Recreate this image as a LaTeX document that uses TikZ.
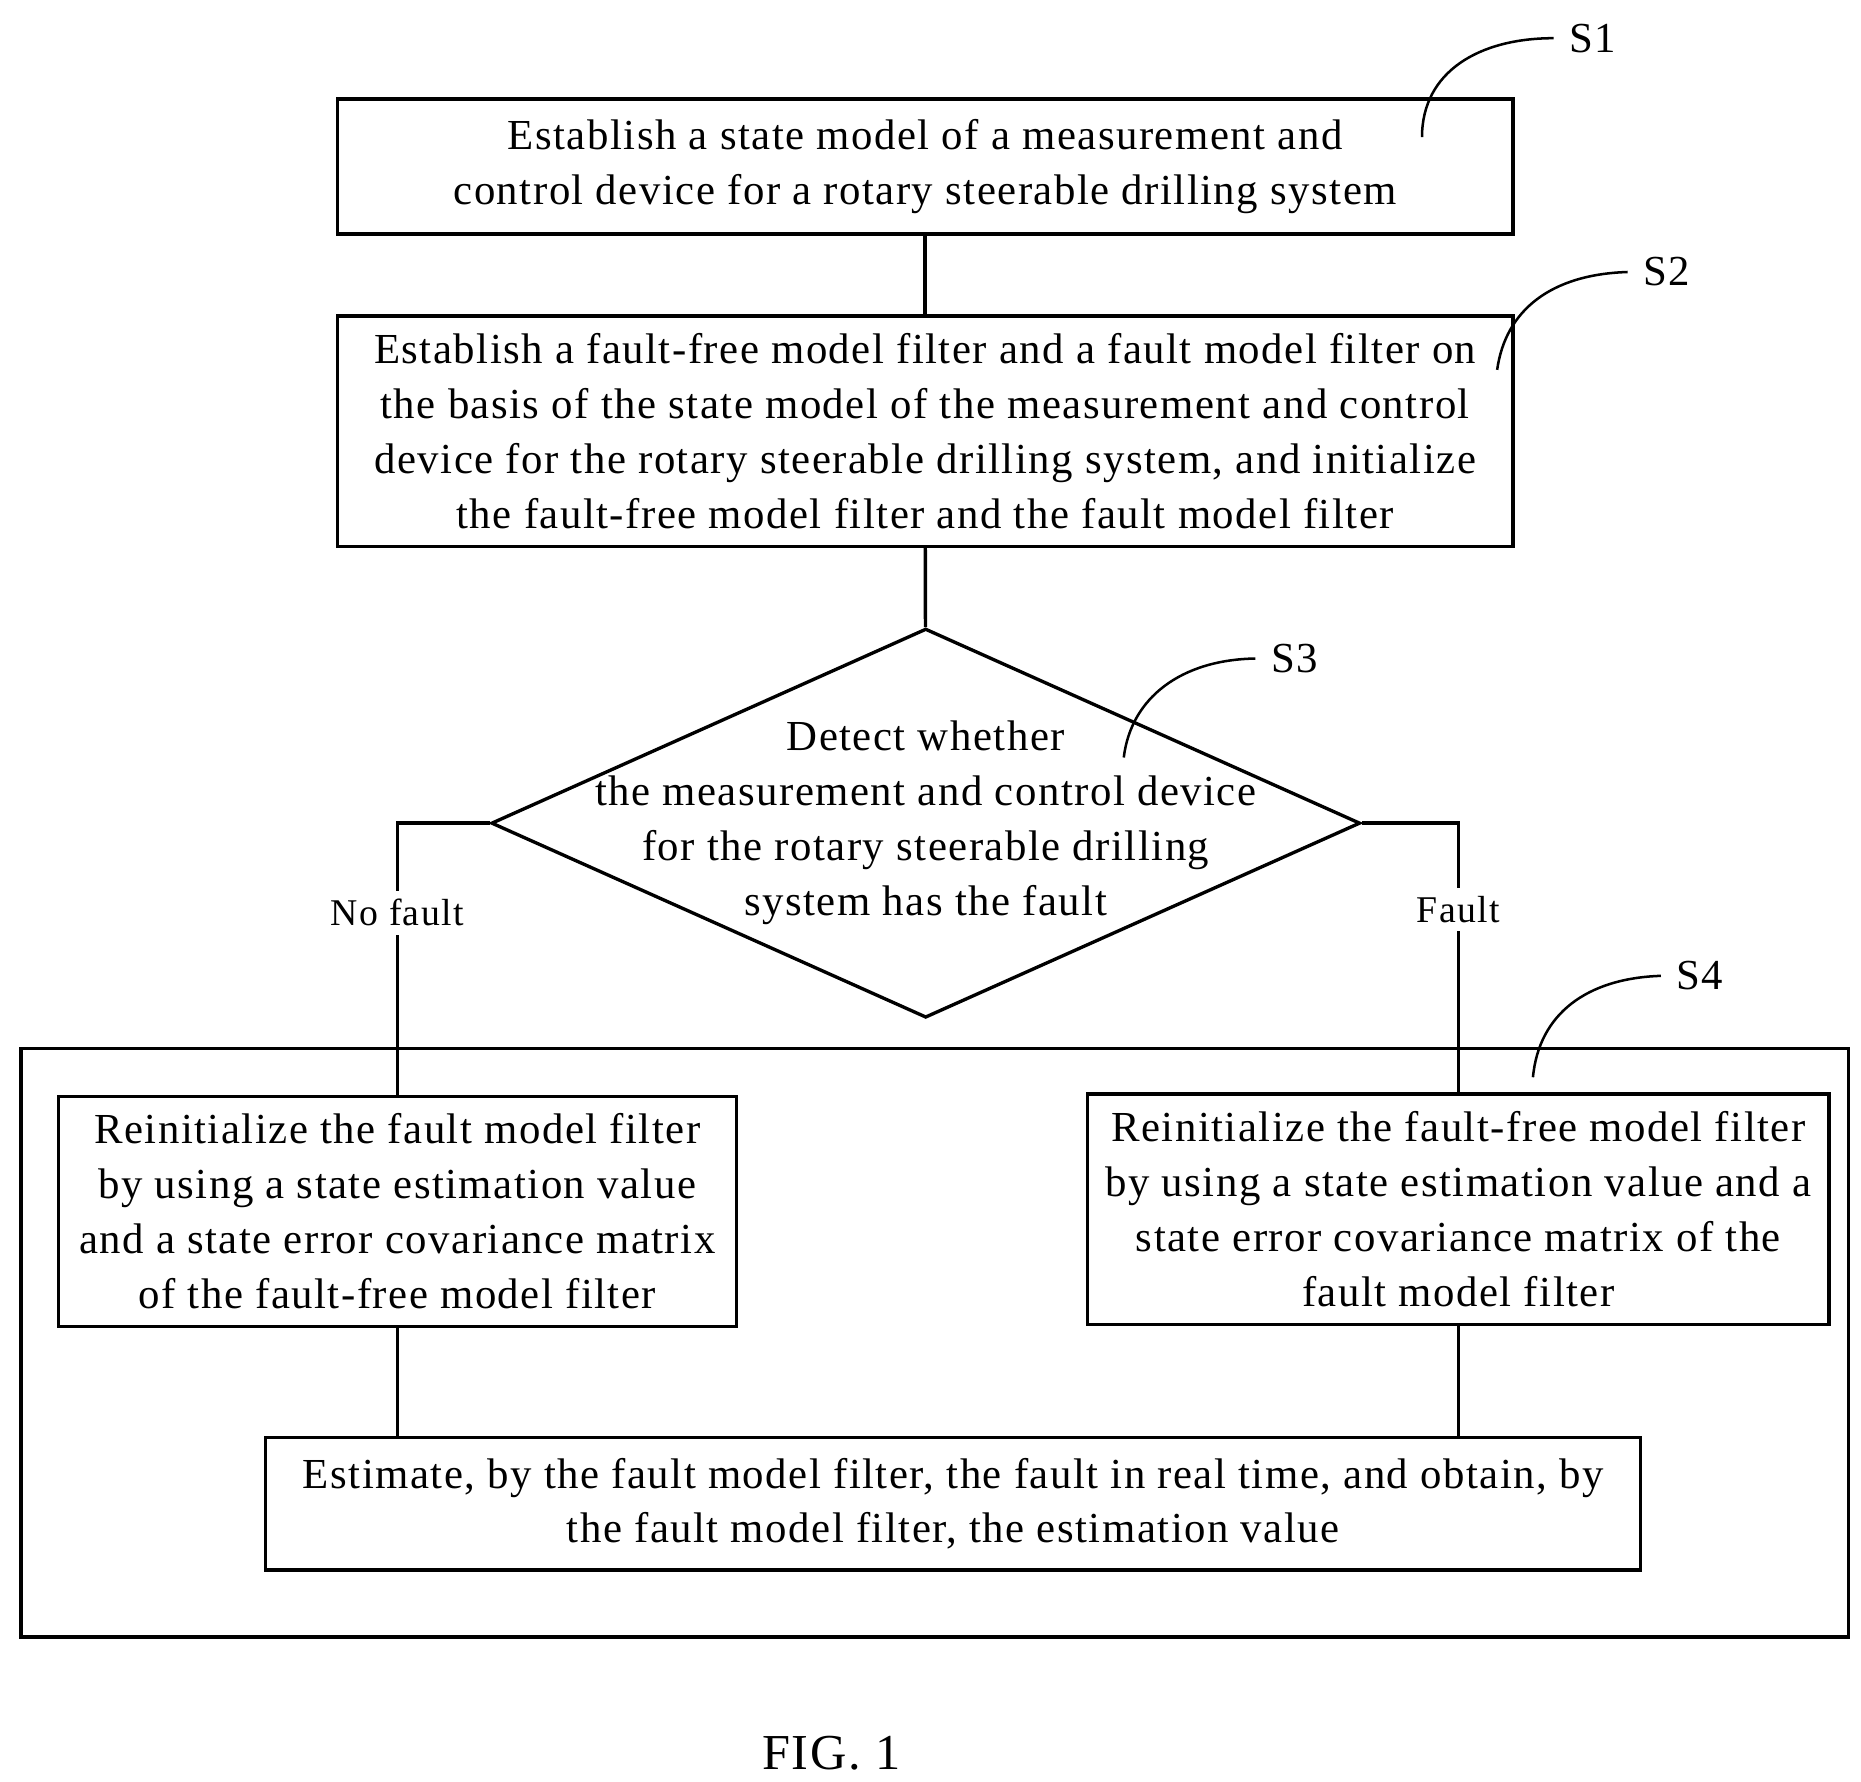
\documentclass[tikz,border=0pt]{standalone}
\usepackage{fontspec}
\setmainfont{Liberation Serif}[LetterSpace=3.5]
\usetikzlibrary{shapes.geometric,calc}
\tikzset{stepbox/.style={
		% plain box, fixed size
		rectangle,draw,thick,align=center,inner sep=0pt,
		font=\fontsize{10.2pt}{13.1pt}\selectfont,
}}
\tikzset{tag/.style={font=\fontsize{10.2pt}{12pt}\selectfont}}
\tikzset{lbl/.style={fill=white,inner sep=2pt,font=\fontsize{9pt}{11pt}\selectfont}}
\begin{document}
\begin{tikzpicture}[x=0.01cm,y=-0.01cm,thick]
	\useasboundingbox (0,0) rectangle (1560,1493);
	% outer frame of S4
	\node (frame) [draw,thick,minimum width=15.31cm,minimum height=4.93cm,inner sep=0pt] at (783.5,1125.5) {};
	\node (s1) [stepbox,minimum width=9.85cm,minimum height=1.13cm] at (775.5,139.5)
		{Establish a state model of a measurement and\\control device for a rotary steerable drilling system};
	\node (s2) [stepbox,minimum width=9.85cm,minimum height=1.93cm] at (775.5,361.5)
		{Establish a fault-free model filter and a fault model filter on\\the basis of the state model of the measurement and control\\device for the rotary steerable drilling system, and initialize\\the fault-free model filter and the fault model filter};
	\node (s3) [diamond,draw,thick,inner sep=0pt,minimum width=7.28cm,minimum height=3.26cm] at (776,690) {};
	\node (s3text) [align=center,font=\fontsize{10.2pt}{13.1pt}\selectfont] at (776,690)
		{Detect whether\\the measurement and control device\\for the rotary steerable drilling\\system has the fault};
	\node (left) [stepbox,minimum width=5.68cm,minimum height=1.93cm] at (333,1015.5)
		{Reinitialize the fault model filter\\by using a state estimation value\\and a state error covariance matrix\\of the fault-free model filter};
	\node (right) [stepbox,minimum width=6.21cm,minimum height=1.93cm] at (1222.5,1013.5)
		{Reinitialize the fault-free model filter\\by using a state estimation value and a\\state error covariance matrix of the\\fault model filter};
	\node (est) [stepbox,minimum width=11.52cm,minimum height=1.11cm] at (799,1260.5)
		{Estimate, by the fault model filter, the fault in real time, and obtain, by\\the fault model filter, the estimation value};
	% connectors
	\draw (s1) -- (s2);
	\draw (s2) -- (s3);
	\draw (s3.west) -| node[lbl,pos=0.665] {No fault} (left.north);
	\draw (s3.east) -| node[lbl,pos=0.66] {Fault} (right.north);
	\draw (left.south) -- (left.south |- est.north);
	\draw (right.south) -- (right.south |- est.north);
	% step tags
	\node (t1) [tag] at (1335,32) {S1};
	\node (t2) [tag] at (1397,228) {S2};
	\node (t3) [tag] at (1085,552) {S3};
	\node (t4) [tag] at (1425,818) {S4};
	\draw[semithick] (1192,115) .. controls (1192,60) and (1240,32) .. (t1.west);
	\draw[semithick] (1255,310) .. controls (1262,260) and (1300,230) .. (t2.west);
	\draw[semithick] (942,635) .. controls (948,585) and (990,553) .. (t3.west);
	\draw[semithick] (1285,903) .. controls (1290,850) and (1330,820) .. (t4.west);
	\node (fig) [font=\fontsize{12pt}{14pt}\selectfont] at (697,1470) {FIG. 1};
\end{tikzpicture}
\end{document}
